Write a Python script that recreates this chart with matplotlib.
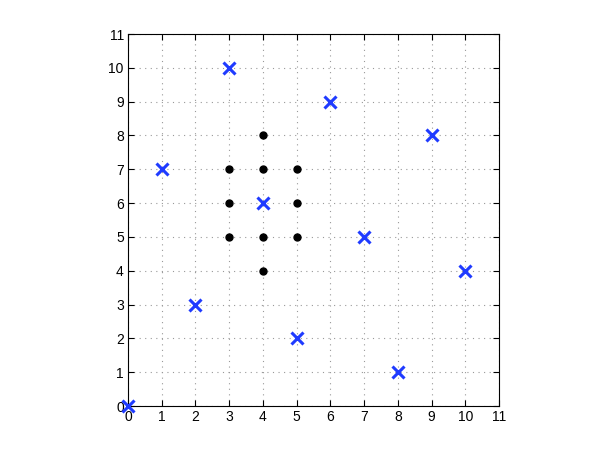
import matplotlib
matplotlib.use("Agg")
import matplotlib.pyplot as plt

cross_x = [0, 1, 2, 3, 4, 5, 6, 7, 8, 9, 10]
cross_y = [0, 7, 3, 10, 6, 2, 9, 5, 1, 8, 4]
dot_x = [3, 3, 3, 4, 4, 4, 4, 5, 5, 5]
dot_y = [5, 6, 7, 4, 5, 7, 8, 5, 6, 7]
ticks = list(range(0, 12))

plt.rcParams['font.family'] = ['Liberation Sans', 'DejaVu Sans']
fig = plt.figure(figsize=(6.07, 4.58), dpi=100)
ax = fig.add_axes([128/607, 1 - 406/458, 371/607, 372/458])
ax.plot(dot_x, dot_y, 'o', color='black', markersize=5, zorder=3)
ax.plot(cross_x, cross_y, 'x', color='#1f3bff', markersize=8, markeredgewidth=2.2, zorder=4, clip_on=False)
ax.set_xlim(0, 11)
ax.set_ylim(0, 11)
ax.set_xticks(ticks)
ax.set_yticks(ticks)
ax.grid(True, linestyle=(0, (1, 4)), color='#999999', linewidth=0.8)
ax.set_axisbelow(True)
ax.tick_params(direction='in', length=4, labelsize=10, top=True, right=True, pad=3)
for s in ax.spines.values():
    s.set_linewidth(0.8)
fig.savefig('out.png', dpi=100)
